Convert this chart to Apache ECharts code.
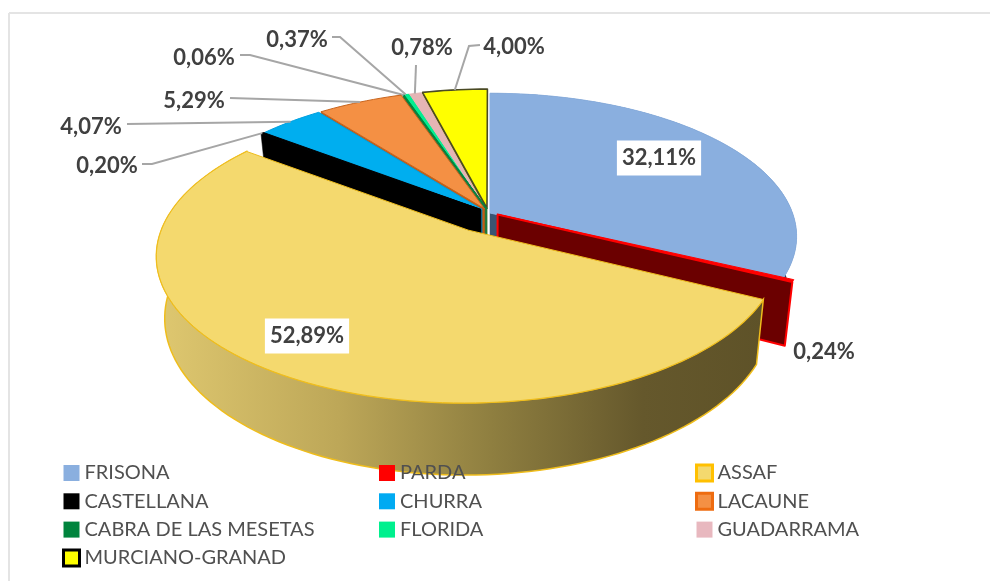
<!DOCTYPE html>
<html>
<head>
<meta charset="utf-8">
<script src="https://cdn.jsdelivr.net/npm/echarts@6/dist/echarts.min.js"></script>
<style>
html,body{margin:0;padding:0;background:#fff;}
#container1{width:990px;height:581px;}
</style>
</head>
<body>
<div id="container1"></div>
<script>
// shares, clockwise from 12 o'clock
var categories = ['FRISONA', 'PARDA', 'ASSAF', 'CASTELLANA', 'CHURRA', 'LACAUNE', 'CABRA DE LAS MESETAS', 'FLORIDA', 'GUADARRAMA', 'MURCIANO-GRANAD'];
var shares = [32.11, 0.24, 52.89, 0.20, 4.07, 5.29, 0.06, 0.37, 0.78, 4.00];

var legendCol1 = ['FRISONA', 'CASTELLANA', 'CABRA DE LAS MESETAS', 'MURCIANO-GRANAD'];
var legendCol2 = ['PARDA', 'CHURRA', 'FLORIDA'];
var legendCol3 = ['ASSAF', 'LACAUNE', 'GUADARRAMA'];

// looks, same order as categories
var topColors = ['#8aafdf', '#c00000', '#f4d96e', '#000000', '#00aeef', '#f49044', '#00843d', '#00ee90', '#e5b5b5', '#ffff00'];
var lineColors = ['#8aafdf', '#ff0000', '#efbd1c', '#000000', '#00a0e0', '#c8651e', '#00843d', '#00ee90', '#e5b5b5', '#4a4a24'];
var faceColors = ['#3a5472', '#6b0000', '#8a7a3a', '#000000', '#0a7fb0', '#c55a11', '#1f7a3d', '#10a060', '#b08888', '#77770a'];
var legendFill = ['#8aafdf', '#ff0000', '#f4d96e', '#000000', '#00aaf2', '#f49044', '#00843d', '#00f08e', '#e8b8bf', '#ffff00'];
var legendEdge = ['#8aafdf', '#ff0000', '#ffc000', '#000000', '#00aaf2', '#ee6c10', '#00843d', '#00f08e', '#e8b8bf', '#000000'];

// slice pull-out on the disc [x, y] and slice radius, in radii
var pull = [[0, 0], [0.025, -0.01], [-0.07, -0.12], [-0.03, 0.025], [-0.026, 0.025], [-0.018, 0.03], [-0.01, 0.03], [-0.015, 0.03], [-0.015, 0.03], [-0.01, 0.035]];
var radii = [0.995, 1, 0.99, 1, 1, 1, 1, 1, 1, 1];

// label centre and elbow of the leader line (null = no leader)
var labelPos = [[659, 158], [824, 352], [307, 336], [107, 166], [91, 127], [194, 101], [204, 58], [297, 40], [422, 48], [514, 47]];
var elbows = [null, null, null, [[142, 164], [152, 164]], [[127, 124]], [[230, 98]], [[240, 55], [250, 55]], [[332, 37], [340, 37]], [[416, 65]], [[480, 45], [469, 46]]];

var cx = 490, cy = 213, R = 304, Rt = 140, persp = 0.164, H = 59;
var total = shares.reduce(function (a, b) { return a + b; }, 0);

var startAngles = [];
var acc = 0;
for (var i = 0; i < shares.length; i++) {
    startAngles.push(acc / total * Math.PI * 2);
    acc += shares[i];
}
startAngles.push(Math.PI * 2);

// disc point -> screen, bottom = true gives the lower edge of the wall
function project(idx, theta, r, bottom) {
    var X = pull[idx][0] + r * radii[idx] * Math.sin(theta);
    var Y = pull[idx][1] + r * radii[idx] * Math.cos(theta);
    var f = 1 / (1 + persp * Y);
    var sx = cx + R * X * f;
    var sy = cy - Rt * Y * f;
    if (bottom) {
        sx = cx + (sx - cx) * 0.975;
        sy += H * f;
    }
    return [sx, sy];
}

function rim(idx, a, b, bottom) {
    var pts = [];
    var n = Math.max(2, Math.ceil((b - a) / 0.03));
    for (var k = 0; k <= n; k++) {
        pts.push(project(idx, a + (b - a) * k / n, 1, bottom));
    }
    return pts;
}

function fmt(v) {
    return v.toFixed(2).replace('.', ',') + '%';
}

var assafWall = new echarts.graphic.LinearGradient(0, 0, 1, 0, [
    { offset: 0, color: '#dfc870' },
    { offset: 0.3, color: '#bda758' },
    { offset: 0.55, color: '#8f7f40' },
    { offset: 0.8, color: '#65582c' },
    { offset: 1, color: '#5e5228' }
]);

function renderSlice(params, api) {
    var idx = api.value(0);
    var a = startAngles[idx], b = startAngles[idx + 1];
    var kids = [];
    var apex = project(idx, 0, 0, false);
    var apexLow = project(idx, 0, 0, true);

    // side faces first, the top goes over them
    if (idx === 0 || idx === 2) {
        var wall = rim(idx, a, b, false).concat(rim(idx, a, b, true).reverse());
        kids.push({
            type: 'polygon',
            shape: { points: wall },
            style: idx === 2 ? { fill: assafWall, stroke: '#efbd1c', lineWidth: 1.5 } : { fill: '#2e4763' }
        });
    }
    var faceAngle = idx <= 1 ? b : a;
    if (idx !== 2) {
        kids.push({
            type: 'polygon',
            shape: { points: [apex, project(idx, faceAngle, 1, false), project(idx, faceAngle, 1, true), apexLow] },
            style: { fill: faceColors[idx], stroke: idx === 1 ? '#ff0000' : faceColors[idx], lineWidth: idx === 1 ? 2 : 0.5, lineJoin: 'round' }
        });
    }
    kids.push({
        type: 'polygon',
        shape: { points: [apex].concat(rim(idx, a, b, false)) },
        style: { fill: idx === 1 ? '#ff0000' : topColors[idx], stroke: lineColors[idx], lineWidth: idx === 9 ? 1.6 : 1, lineJoin: 'round' }
    });

    // leader line runs from the elbow to the middle of the slice rim
    if (elbows[idx]) {
        var mid = project(idx, (a + b) / 2, 1, false);
        kids.push({
            type: 'polyline',
            shape: { points: elbows[idx].concat([mid]) },
            style: { fill: null, stroke: '#a6a6a6', lineWidth: 2 }
        });
    }
    var boxed = idx === 0 || idx === 2;
    kids.push({
        type: 'text',
        x: labelPos[idx][0],
        y: labelPos[idx][1],
        style: {
            text: fmt(shares[idx]),
            fill: '#404040',
            font: 'bold 22px Lato',
            align: 'center',
            verticalAlign: 'middle',
            backgroundColor: boxed ? '#fff' : null,
            padding: boxed ? [7, 5, 6, 5] : 0
        }
    });
    return { type: 'group', children: kids };
}

// back slices first, ASSAF last because it sits in front of everything
var drawOrder = [9, 8, 7, 6, 5, 4, 3, 0, 1, 2];
var seriesList = [];
for (var s = 0; s < drawOrder.length; s++) {
    seriesList.push({
        type: 'custom',
        name: categories[drawOrder[s]],
        coordinateSystem: 'none',
        silent: true,
        animation: false,
        z: 2 + s,
        itemStyle: { color: legendFill[drawOrder[s]] },
        data: [[drawOrder[s], shares[drawOrder[s]]]],
        renderItem: renderSlice
    });
}

function legendColumn(names, left) {
    return {
        orient: 'vertical',
        left: left,
        top: 463,
        z: 50,
        padding: 0,
        itemWidth: 16,
        itemHeight: 16,
        itemGap: 8.3,
        icon: 'rect',
        selectedMode: false,
        textStyle: { fontFamily: 'Lato', fontSize: 20, lineHeight: 20, color: '#505050' },
        data: names.map(function (n) {
            var c = categories.indexOf(n);
            return {
                name: n,
                itemStyle: { color: legendFill[c], borderColor: legendEdge[c], borderWidth: legendEdge[c] === legendFill[c] ? 0 : 3 }
            };
        })
    };
}

var myChart = echarts.init(document.getElementById('container1'));
myChart.setOption({
    backgroundColor: '#fff',
    animation: false,
    graphic: [
        { type: 'line', shape: { x1: 9, y1: 13, x2: 990, y2: 13 }, style: { stroke: '#e4e4e4', lineWidth: 2 } },
        { type: 'line', shape: { x1: 9, y1: 13, x2: 9, y2: 581 }, style: { stroke: '#e4e4e4', lineWidth: 2 } }
    ],
    legend: [legendColumn(legendCol1, 62), legendColumn(legendCol2, 379), legendColumn(legendCol3, 695)],
    series: seriesList
});
</script>
</body>
</html>
